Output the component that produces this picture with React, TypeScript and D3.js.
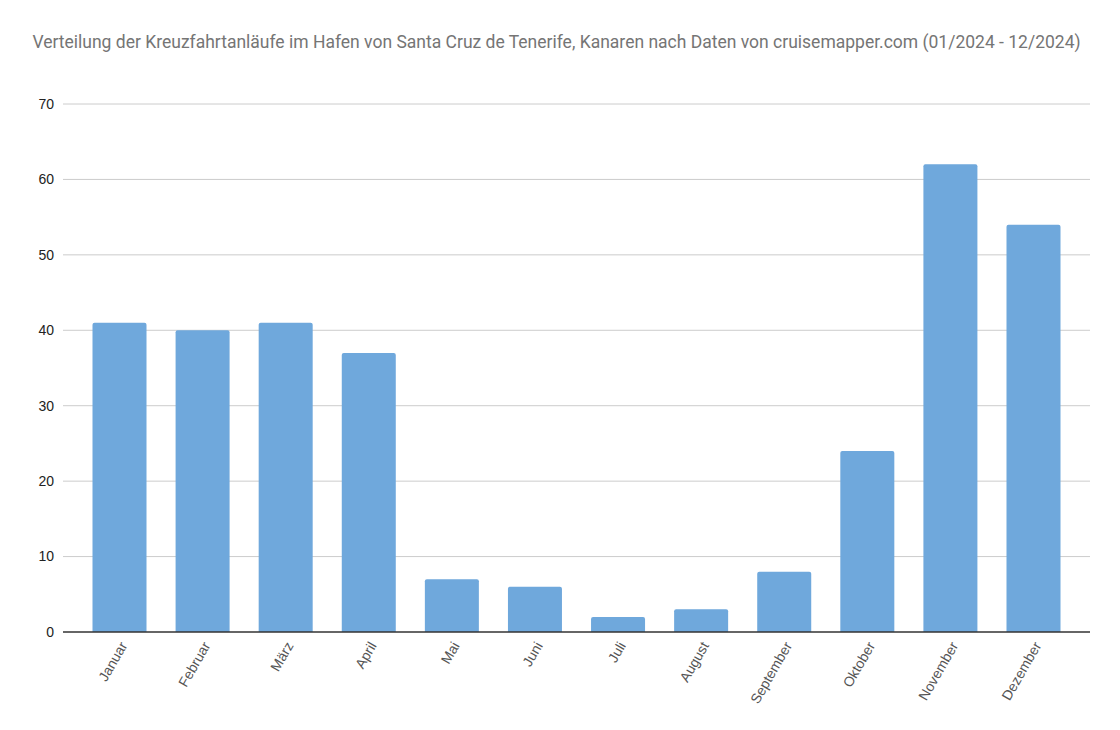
import React from "react";
import * as d3 from "d3";

const months = ["Januar", "Februar", "März", "April", "Mai", "Juni", "Juli", "August", "September", "Oktober", "November", "Dezember"];
const calls = [41, 40, 41, 37, 7, 6, 2, 3, 8, 24, 62, 54];
const yTicks = [0, 10, 20, 30, 40, 50, 60, 70];
const title = "Verteilung der Kreuzfahrtanläufe im Hafen von Santa Cruz de Tenerife, Kanaren nach Daten von cruisemapper.com (01/2024 - 12/2024)";

const W = 1120, H = 730;
const left = 63, right = 1090, top = 104, bottom = 632;

export default function App() {
  const x = d3.scaleBand<string>().domain(months).range([left, right]).paddingInner(0.35).paddingOuter(0.355);
  const y = d3.scaleLinear().domain([0, 70]).range([bottom, top]);
  const bw = x.bandwidth();
  const r = 2;
  const barPath = (xs: number, yt: number, w: number, yb: number) => {
    const rr = Math.min(r, (yb - yt) / 2);
    return `M${xs},${yb}V${yt + rr}Q${xs},${yt} ${xs + rr},${yt}H${xs + w - rr}Q${xs + w},${yt} ${xs + w},${yt + rr}V${yb}Z`;
  };
  return (
    <svg width={W} height={H} style={{ position: "absolute", left: 0, top: 0 }}>
      <rect width={W} height={H} fill="#fff" />
      <text x={556.5} y={48} textAnchor="middle" fontSize={17.5} fill="#757575" fontFamily="Roboto, sans-serif">{title}</text>
      {yTicks.map(t => (
        <g key={t}>
          {t !== 0 && <line x1={left} x2={right} y1={y(t)} y2={y(t)} stroke="#cccccc" strokeWidth={1} />}
          <text x={54} y={y(t)} dy="0.35em" textAnchor="end" fontSize={14} fill="#222" fontFamily="'Liberation Sans', Arial, sans-serif">{t}</text>
        </g>
      ))}
      {months.map((m, i) => (
        <path key={m} d={barPath(x(m)!, y(calls[i]), bw, y(0))} fill="#6fa8dc" />
      ))}
      <line x1={left} x2={right} y1={y(0)} y2={y(0)} stroke="#333" strokeWidth={1.5} />
      {months.map(m => {
        const cx = x(m)! + bw / 2 + 4;
        const cy = 643;
        return (
          <text key={m} x={cx} y={cy} transform={`rotate(-60 ${cx} ${cy})`} textAnchor="end" dy="0.35em" fontSize={14} fill="#555" fontFamily="'Liberation Sans', Arial, sans-serif">{m}</text>
        );
      })}
    </svg>
  );
}
